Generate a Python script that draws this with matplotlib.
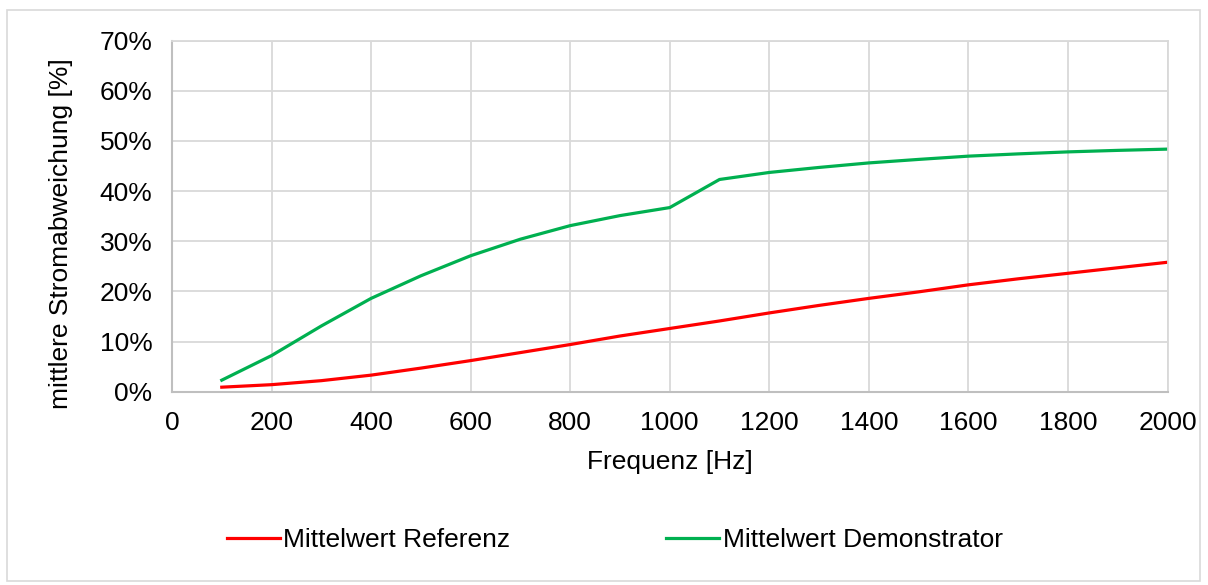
import matplotlib
matplotlib.use('Agg')
import matplotlib.pyplot as plt
from matplotlib.ticker import FuncFormatter
from matplotlib.patches import Rectangle

# data
freq = [100, 200, 300, 400, 500, 600, 700, 800, 900, 1000,
        1100, 1200, 1300, 1400, 1500, 1600, 1700, 1800, 1900, 2000]
referenz = [0.9, 1.4, 2.2, 3.3, 4.7, 6.2, 7.8, 9.4, 11.1, 12.6,
            14.1, 15.7, 17.2, 18.6, 19.9, 21.3, 22.5, 23.6, 24.7, 25.8]
demonstrator = [2.3, 7.2, 13.1, 18.6, 23.1, 27.1, 30.4, 33.1, 35.1, 36.7,
                42.3, 43.7, 44.7, 45.6, 46.3, 46.95, 47.4, 47.8, 48.1, 48.35]
x_ticks = list(range(0, 2001, 200))
y_ticks = list(range(0, 71, 10))

plt.rcParams['font.family'] = ['Liberation Sans', 'DejaVu Sans']
fs = 19

fig = plt.figure(figsize=(12.08, 5.85), dpi=100)
ax = fig.add_axes([172/1208, 1 - 391.7/585, (1167.5 - 172)/1208, (391.7 - 40.5)/585])

ax.plot(freq, referenz, color='#FF0000', lw=2.3, label='Mittelwert Referenz')
ax.plot(freq, demonstrator, color='#00B050', lw=2.3, label='Mittelwert Demonstrator')

ax.set_xlim(0, 2000)
ax.set_ylim(0, 70)
ax.set_xticks(x_ticks)
ax.set_yticks(y_ticks)
ax.yaxis.set_major_formatter(FuncFormatter(lambda v, p: '%d%%' % v))
ax.tick_params(length=0, labelsize=fs, pad=14)
ax.grid(True, color='#d9d9d9', lw=1.3)
ax.set_axisbelow(True)
for s in ['top', 'right']:
    ax.spines[s].set_color('#d9d9d9')
    ax.spines[s].set_linewidth(1.3)
for s in ['left', 'bottom']:
    ax.spines[s].set_color('#bfbfbf')
    ax.spines[s].set_linewidth(1.5)

ax.set_xlabel('Frequenz [Hz]', fontsize=fs, labelpad=11)
fig.text(61/1208, 1 - 234/585, 'mittlere Stromabweichung [%]', fontsize=fs,
         rotation=90, ha='center', va='center')

fig.legend(loc='center', bbox_to_anchor=(0.509, 1 - 540/585), ncol=2,
           frameon=False, fontsize=fs, handlelength=2.0, handletextpad=0.15,
           columnspacing=5.9)

# outer chart border
fig.patches.append(Rectangle((7/1208, 1 - 581/585), (1200 - 7)/1208, (581 - 10)/585,
                             transform=fig.transFigure, fill=False,
                             edgecolor='#d9d9d9', lw=1.2))

fig.savefig('out.png', dpi=100)
